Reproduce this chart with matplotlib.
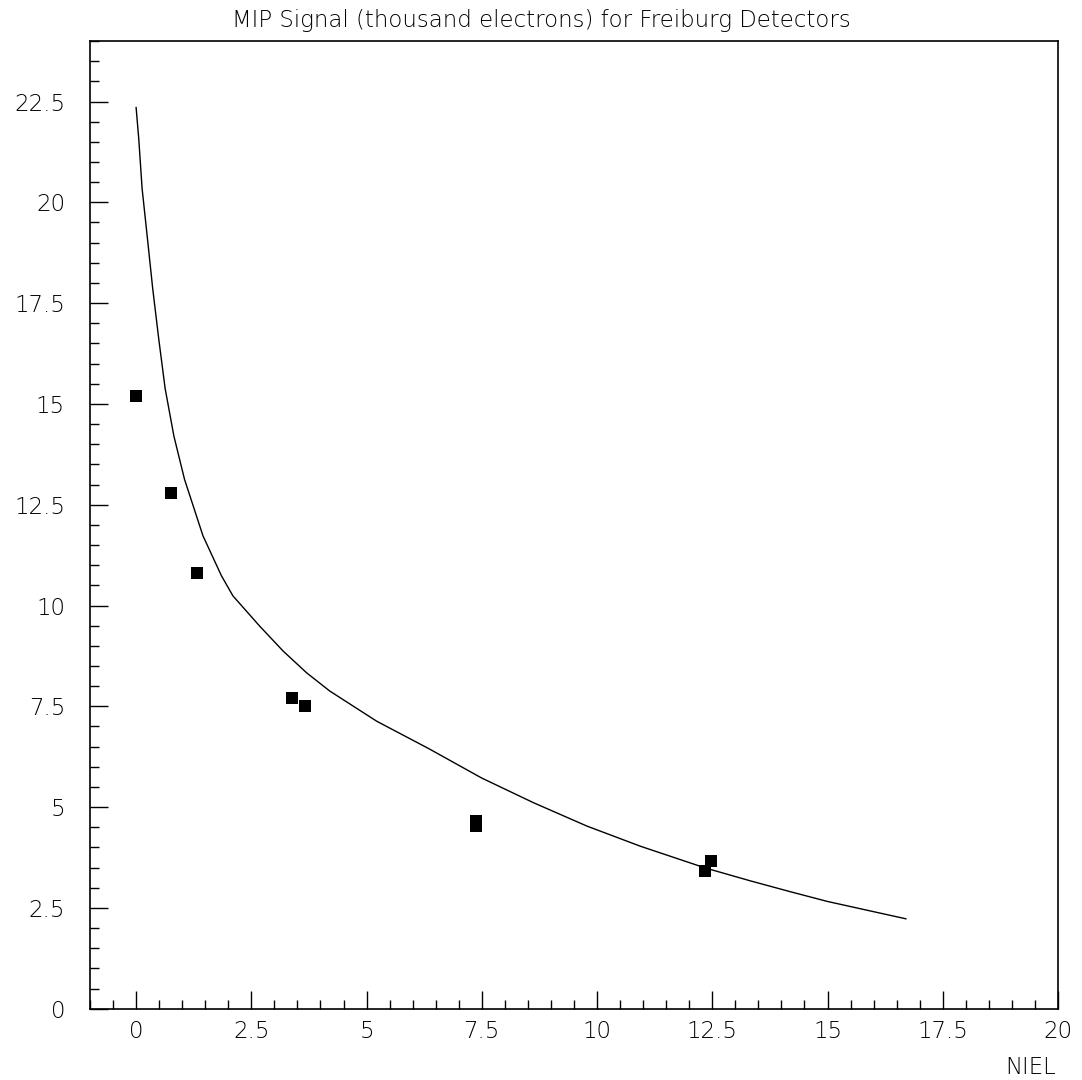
import numpy as np
import matplotlib.pyplot as plt
from matplotlib.ticker import MultipleLocator

# measured MIP signal (thousand electrons) vs NIEL
niel = [0.0, 0.75, 1.33, 3.38, 3.66, 7.38, 7.38, 12.35, 12.47]
signal = [15.2, 12.8, 10.8, 7.7, 7.5, 4.65, 4.53, 3.42, 3.66]

# fitted curve, sampled
fit_x = [0.0, 0.057, 0.13, 0.246, 0.36, 0.49, 0.63, 0.82, 1.05, 1.45, 1.85,
         2.10, 2.68, 3.19, 3.70, 4.20, 5.22, 6.35, 7.50, 8.62, 9.78,
         10.94, 12.35, 13.33, 14.20, 15.0, 16.70]
fit_y = [22.35, 21.58, 20.34, 19.10, 17.86, 16.62, 15.38, 14.20, 13.13, 11.73,
         10.74, 10.24, 9.49, 8.87, 8.33, 7.88, 7.13, 6.45, 5.72, 5.11,
         4.53, 4.03, 3.49, 3.17, 2.90, 2.66, 2.23]

plt.rcParams['font.family'] = ['DejaVu Sans']
plt.rcParams['font.weight'] = 'light'

fig = plt.figure(figsize=(10.82, 10.8), dpi=100)
ax = fig.add_axes([0.0832, 0.066, 0.8946, 0.896])

ax.plot(fit_x, fit_y, color='black', lw=1.0)
ax.plot(niel, signal, 's', color='black', markersize=8, markeredgewidth=0)

ax.set_xlim(-1, 20)
ax.set_ylim(0, 24)
ax.xaxis.set_minor_locator(MultipleLocator(0.5))
ax.yaxis.set_minor_locator(MultipleLocator(0.5))
ax.set_xticks([0, 2.5, 5, 7.5, 10, 12.5, 15, 17.5, 20])
ax.set_xticklabels(['0', '2.5', '5', '7.5', '10', '12.5', '15', '17.5', '20'])
ax.set_yticks([0, 2.5, 5, 7.5, 10, 12.5, 15, 17.5, 20, 22.5])
ax.set_yticklabels(['0', '2.5', '5', '7.5', '10', '12.5', '15', '17.5', '20', '22.5'])

ax.tick_params(which='both', direction='in', top=False, right=False,
               width=1.0, labelsize=16.5)
ax.tick_params(which='major', length=13)
ax.tick_params(which='minor', length=6.5)
ax.tick_params(axis='x', pad=8)
ax.tick_params(axis='y', pad=18)
for s in ax.spines.values():
    s.set_linewidth(1.2)

fig.text(0.5, 0.981, 'MIP Signal (thousand electrons) for Freiburg Detectors',
         ha='center', va='center', fontsize=16.5)
fig.text(0.976, 0.0115, 'NIEL', ha='right', va='center', fontsize=16.5)

fig.savefig('out.png', dpi=100, facecolor='white')
